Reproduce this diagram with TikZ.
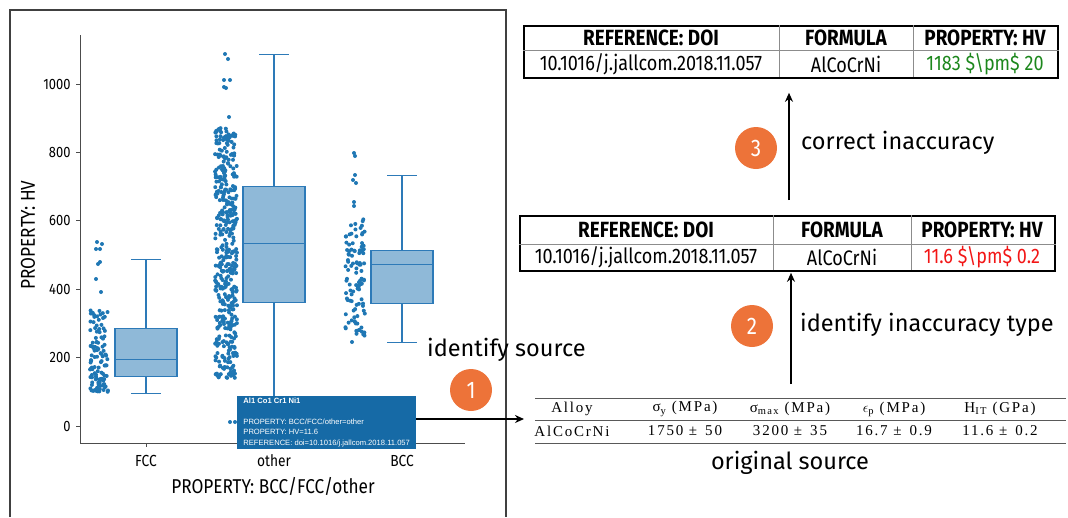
\documentclass[tikz,border=0pt]{standalone}
\usepackage{fontspec}
\setmainfont{Fira Sans}
\newfontfamily\narrowfont{Fira Sans}[FakeStretch=0.86]
\newfontfamily\srcfont{Liberation Serif}[LetterSpace=12]
\newfontfamily\tipfont{Liberation Sans}
\usetikzlibrary{positioning,calc,arrows.meta}
\definecolor{dotblue}{RGB}{31,119,180}
\definecolor{boxfill}{RGB}{143,185,216}
\definecolor{boxedge}{RGB}{45,122,184}
\definecolor{tipblue}{RGB}{22,106,166}
\definecolor{steporange}{RGB}{237,115,57}
\definecolor{goodgreen}{RGB}{28,135,28}
\definecolor{badred}{RGB}{242,22,22}
\tikzset{
  figlabel/.style={font=\fontsize{23.5}{24}\selectfont, inner sep=0pt},
  figstep/.style={circle, fill=steporange, text=white, minimum size=42pt, inner sep=0pt,
    font=\narrowfont\fontsize{24}{24}\selectfont},
  figframe/.style={draw=black!75, line width=1.2pt},
  figspine/.style={draw=black!70, line width=0.9pt},
  figtick/.style={font=\narrowfont\fontsize{15}{15}\selectfont},
  figcat/.style={font=\narrowfont\fontsize{16}{16}\selectfont},
  figaxis/.style={font=\narrowfont\fontsize{20}{20}\selectfont},
  figboxpen/.style={draw=boxedge, line width=1.1pt},
  figdot/.style={fill=dotblue},
  figtabframe/.style={draw=black, line width=1.8pt},
  figtabrule/.style={draw=black!45, line width=0.7pt},
  fighead/.style={font=\narrowfont\bfseries\fontsize{22}{22}\selectfont},
  figcell/.style={font=\narrowfont\fontsize{21}{21}\selectfont},
  figsrc/.style={font=\srcfont\fontsize{15}{15}\selectfont},
  figsrcrule/.style={draw=black!65, line width=1pt},
  figarrow/.style={-{Stealth[length=9pt, width=8pt]}, line width=2.6pt},
}
% one box with whiskers: centre x, low, q1, median, q3, high (HV values)
\newcommand{\hvbox}[6]{%
  \draw[figboxpen] (#1,{426-0.342*#2}) -- (#1,{426-0.342*#3});
  \draw[figboxpen] (#1,{426-0.342*#5}) -- (#1,{426-0.342*#6});
  \draw[figboxpen] (#1-15,{426-0.342*#2}) -- (#1+15,{426-0.342*#2});
  \draw[figboxpen] (#1-15,{426-0.342*#6}) -- (#1+15,{426-0.342*#6});
  \draw[figboxpen, fill=boxfill] (#1-31,{426-0.342*#3}) rectangle (#1+31,{426-0.342*#5});
  \draw[figboxpen] (#1-31,{426-0.342*#4}) -- (#1+31,{426-0.342*#4});
}
\begin{document}
\begin{tikzpicture}[x=1pt, y=-1pt]
  \useasboundingbox (0,0) rectangle (1068,517);
  % plot panel
  \draw[figframe] (10,517) -- (10,10) -- (506,10) -- (506,517);
  \draw[figspine] (80,35) -- (80,443) -- (465,443);
  \foreach \v in {0,200,...,1000}{
    \draw[figspine] (76,{426-0.342*\v}) -- (80,{426-0.342*\v});
    \node[figtick, anchor=east] (tick\v) at (74,{426-0.342*\v}) {\v};
  }
  \foreach \cx/\cn in {146/FCC,274/other,402/BCC}{
    \draw[figspine] (\cx,443) -- (\cx,447);
    \node[figcat] (cat\cn) at (\cx,461) {\cn};
  }
  \node[figaxis] (xlab) at (273,486) {PROPERTY: BCC/FCC/other};
  \node[figaxis, rotate=90] (ylab) at (28,235) {PROPERTY: HV};

  % boxes
  \hvbox{146}{95}{145}{195}{285}{487}
  \hvbox{274}{0}{360}{533}{700}{1085}
  \hvbox{402}{245}{358}{473}{512}{733}

  % jittered points
  \pgfmathsetseed{4321}
  \foreach \k in {1,...,115}{
    \pgfmathsetmacro{\px}{99+9*rand}
    \pgfmathsetmacro{\py}{426-0.342*(100+240*pow(rnd,1.3))}
    \fill[figdot] (\px,\py) circle[radius=2pt];
  }
  \foreach \k in {1,...,440}{
    \pgfmathsetmacro{\px}{226+11*rand}
    \pgfmathsetmacro{\py}{426-0.342*(140+735*rnd)}
    \fill[figdot] (\px,\py) circle[radius=2pt];
  }
  \foreach \k in {1,...,105}{
    \pgfmathsetmacro{\px}{355+10*rand}
    \pgfmathsetmacro{\py}{426-0.342*(262+345*rnd)}
    \fill[figdot] (\px,\py) circle[radius=2pt];
  }
  \foreach \px/\py in {97/242,102/244,96/249,100/249,98/264,100/262,96/279,101/292,
      225/54,228/59,224/80,230/80,224/87,226/88,229/117,
      354/153,355/156,355/175,353/180,356/183,354/202,354/206,352/342,
      230/422,235/422}{
    \fill[figdot] (\px,\py) circle[radius=2pt];
  }

  % hover box
  \fill[tipblue] (237,422) -- (241,418) -- (241,426) -- cycle;
  \node[fill=tipblue, text=white, anchor=north west, inner sep=2pt, minimum width=179pt,
    minimum height=52pt, align=left, font=\tipfont\fontsize{7.6}{10.4}\selectfont]
    (tip) at (237,396)
    {\textbf{Al1 Co1 Cr1 Ni1}\\[10.4pt]
     PROPERTY: BCC/FCC/other=other\\
     PROPERTY: HV=11.6\\
     REFERENCE: doi=10.1016/j.jallcom.2018.11.057};

  % original source table
  \node[anchor=north west, minimum width=531pt, minimum height=45pt, inner sep=0pt]
    (srctab) at (535,398) {};
  \draw[figsrcrule] (srctab.north west) -- (srctab.north east);
  \draw[figsrcrule, line width=0.7pt] (srctab.west) -- (srctab.east);
  \draw[figsrcrule] (srctab.south west) -- (srctab.south east);
  \node[figsrc] (hAlloy) at (572,409) {Alloy};
  \node[figsrc] (hSy) at (685,409) {σ\textsubscript{y} (MPa)};
  \node[figsrc] (hSmax) at (790,409) {σ\textsubscript{max} (MPa)};
  \node[figsrc] (hEp) at (894,409) {$\epsilon$\textsubscript{p} (MPa)};
  \node[figsrc] (hHit) at (1000,409) {H\textsubscript{IT} (GPa)};
  \node[figsrc] (vAlloy) at (572,431) {AlCoCrNi};
  \node[figsrc] (vSy) at (685,431) {1750 ± \,50};
  \node[figsrc] (vSmax) at (790,431) {3200 ± \,35};
  \node[figsrc] (vEp) at (894,431) {16.7 ± \,0.9};
  \node[figsrc] (vHit) at (1000,431) {11.6 ± \,0.2};
  \node[figlabel] (lblsrc) at (790,463) {original source};

  % extracted row, wrong value
  \node[figtabframe, anchor=north west, minimum width=535pt, minimum height=55pt, inner sep=0pt]
    (midtab) at (519,215) {};
  \draw[figtabrule] (midtab.west |- 0,244) -- (midtab.east |- 0,244);
  \draw[figtabrule] (773,215) -- (773,270);
  \draw[figtabrule] (911,215) -- (911,270);
  \node[fighead] (mdoi) at (646,230) {REFERENCE: DOI};
  \node[fighead] (mform) at (842,230) {FORMULA};
  \node[fighead] (mprop) at (982,230) {PROPERTY: HV};
  \node[figcell] (mdoiv) at (646,257) {10.1016/j.jallcom.2018.11.057};
  \node[figcell] (mformv) at (842,257) {AlCoCrNi};
  \node[figcell, text=badred] (mpropv) at (982,257) {11.6 \$\textbackslash pm\$ 0.2};

  % corrected row
  \node[figtabframe, anchor=north west, minimum width=534pt, minimum height=52pt, inner sep=0pt]
    (toptab) at (523,25) {};
  \draw[figtabrule] (toptab.west |- 0,50) -- (toptab.east |- 0,50);
  \draw[figtabrule] (779,25) -- (779,77);
  \draw[figtabrule] (913,25) -- (913,77);
  \node[fighead] (tdoi) at (651,38) {REFERENCE: DOI};
  \node[fighead] (tform) at (846,38) {FORMULA};
  \node[fighead] (tprop) at (985,38) {PROPERTY: HV};
  \node[figcell] (tdoiv) at (651,64) {10.1016/j.jallcom.2018.11.057};
  \node[figcell] (tformv) at (846,64) {AlCoCrNi};
  \node[figcell, text=goodgreen] (tpropv) at (985,64) {1183 \$\textbackslash pm\$ 20};

  % steps
  \draw[figarrow, shorten >=11pt] (tip.east |- 0,419) -- (srctab.west |- 0,419);
  \node[figstep] (step1) at (471,390) {1};
  \node[figlabel, anchor=west] (lbl1) at (427,350) {identify source};

  \coordinate (a2start) at (791,384);
  \draw[figarrow, shorten >=1pt] (a2start) -- (a2start |- midtab.south);
  \node[figstep] (step2) at (752,326) {2};
  \node[figlabel, anchor=west] (lbl2) at (800,325) {identify inaccuracy type};

  \coordinate (a3start) at (789,200);
  \draw[figarrow, shorten >=14pt] (a3start) -- (a3start |- toptab.south);
  \node[figstep] (step3) at (756,148) {3};
  \node[figlabel, anchor=west] (lbl3) at (801,143) {correct inaccuracy};
\end{tikzpicture}
\end{document}
